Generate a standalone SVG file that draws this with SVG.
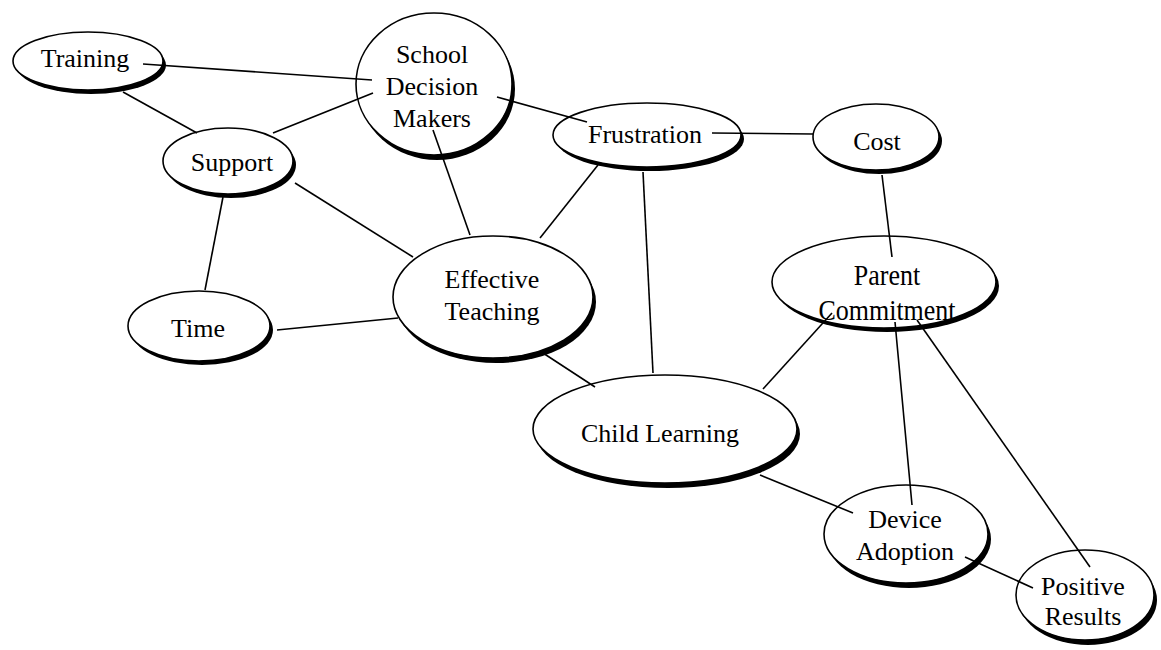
<svg xmlns="http://www.w3.org/2000/svg" width="1161" height="650" viewBox="0 0 1161 650">
<style>
.sh{fill:#000}
.el{fill:#fff;stroke:#000;stroke-width:1.6}
.t{font-family:"Liberation Serif","Times New Roman",serif;font-size:26px;fill:#000;text-anchor:middle}
#connectors line{stroke:#000;stroke-width:1.6}
</style>
<rect width="1161" height="650" fill="#fff"/>
<g id="training"><ellipse class="sh" cx="91" cy="65" rx="75" ry="29"/><ellipse class="el" cx="88" cy="61" rx="75" ry="29"/><text class="t" x="85" y="67">Training</text></g>
<g id="school"><ellipse class="sh" cx="437" cy="89" rx="78" ry="71"/><ellipse class="el" cx="434" cy="84" rx="78" ry="71"/><text class="t" x="432" y="63">School</text><text class="t" x="432" y="95">Decision</text><text class="t" x="432" y="127">Makers</text></g>
<g id="frustration"><ellipse class="sh" cx="650" cy="139" rx="94" ry="32"/><ellipse class="el" cx="647" cy="135" rx="94" ry="32"/><text class="t" x="645" y="143">Frustration</text></g>
<g id="cost"><ellipse class="sh" cx="879" cy="141" rx="63" ry="33"/><ellipse class="el" cx="876" cy="137" rx="63" ry="33"/><text class="t" x="877" y="150">Cost</text></g>
<g id="support"><ellipse class="sh" cx="231" cy="165" rx="65" ry="33"/><ellipse class="el" cx="228" cy="161" rx="65" ry="33"/><text class="t" x="232" y="171">Support</text></g>
<g id="time"><ellipse class="sh" cx="202" cy="330" rx="71" ry="35"/><ellipse class="el" cx="199" cy="326" rx="71" ry="35"/><text class="t" x="198" y="337">Time</text></g>
<g id="effective"><ellipse class="sh" cx="496" cy="302" rx="100" ry="61"/><ellipse class="el" cx="493" cy="297" rx="100" ry="61"/><text class="t" x="492" y="288">Effective</text><text class="t" x="492" y="320">Teaching</text></g>
<g id="parent"><ellipse class="sh" cx="887" cy="286" rx="112" ry="46"/><ellipse class="el" cx="884" cy="282" rx="112" ry="46"/><text class="t" transform="translate(887 285) scale(1 1.15)">Parent</text><text class="t" transform="translate(887 320) scale(1 1.15)">Commitment</text></g>
<g id="child"><ellipse class="sh" cx="668" cy="434" rx="132" ry="54"/><ellipse class="el" cx="665" cy="429" rx="132" ry="54"/><text class="t" x="660" y="442">Child Learning</text></g>
<g id="device"><ellipse class="sh" cx="909" cy="539" rx="82" ry="49"/><ellipse class="el" cx="906" cy="534" rx="82" ry="49"/><text class="t" x="905" y="528">Device</text><text class="t" x="905" y="560">Adoption</text></g>
<g id="positive"><ellipse class="sh" cx="1088" cy="600" rx="69" ry="45"/><ellipse class="el" cx="1085" cy="595" rx="69" ry="45"/><text class="t" x="1083" y="595">Positive</text><text class="t" x="1083" y="625">Results</text></g>
<g id="connectors">
<line x1="143" y1="64" x2="372" y2="80"/>
<line x1="123" y1="92" x2="197" y2="133"/>
<line x1="273" y1="133" x2="373" y2="93"/>
<line x1="497" y1="97" x2="587" y2="122"/>
<line x1="433" y1="130" x2="470" y2="235"/>
<line x1="712" y1="133" x2="813" y2="134"/>
<line x1="598" y1="165" x2="540" y2="238"/>
<line x1="643" y1="172" x2="653" y2="373"/>
<line x1="882" y1="175" x2="892" y2="257"/>
<line x1="223" y1="197" x2="205" y2="290"/>
<line x1="295" y1="183" x2="413" y2="257"/>
<line x1="277" y1="330" x2="398" y2="318"/>
<line x1="543" y1="353" x2="595" y2="387"/>
<line x1="832" y1="313" x2="763" y2="389"/>
<line x1="895" y1="322" x2="912" y2="505"/>
<line x1="917" y1="320" x2="1090" y2="567"/>
<line x1="760" y1="475" x2="853" y2="513"/>
<line x1="965" y1="557" x2="1033" y2="588"/>
</g>
</svg>
